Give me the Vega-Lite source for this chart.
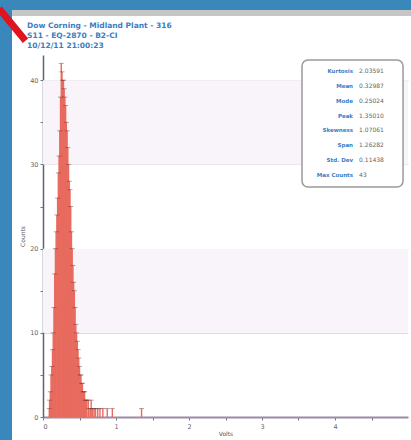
{
  "$schema": "https://vega.github.io/schema/vega-lite/v6.json",
  "width": 365,
  "height": 362,
  "autosize": {"type": "none"},
  "padding": {"left": 43, "top": 55, "right": 3, "bottom": 23},
  "background": "white",
  "config": {
    "view": {"stroke": null},
    "axis": {"labelFont": "DejaVu Sans", "titleFont": "DejaVu Sans", "labelColor": "#666", "titleColor": "#555", "labelFontSize": 6.5, "titleFontSize": 6, "titleFontWeight": "normal", "tickColor": "#777", "tickSize": 3}
  },
  "datasets": {
    "hist": [
      {"volts": 0.087, "count": 1}, {"volts": 0.09, "count": 2}, {"volts": 0.10, "count": 3}, {"volts": 0.11, "count": 5},
      {"volts": 0.12, "count": 6}, {"volts": 0.13, "count": 8}, {"volts": 0.14, "count": 10}, {"volts": 0.15, "count": 13},
      {"volts": 0.16, "count": 17}, {"volts": 0.17, "count": 20}, {"volts": 0.18, "count": 22}, {"volts": 0.19, "count": 24},
      {"volts": 0.20, "count": 26}, {"volts": 0.21, "count": 29}, {"volts": 0.22, "count": 31}, {"volts": 0.23, "count": 34},
      {"volts": 0.24, "count": 38}, {"volts": 0.25, "count": 42}, {"volts": 0.26, "count": 41}, {"volts": 0.27, "count": 40},
      {"volts": 0.28, "count": 40}, {"volts": 0.29, "count": 39}, {"volts": 0.30, "count": 38}, {"volts": 0.31, "count": 37},
      {"volts": 0.32, "count": 35}, {"volts": 0.33, "count": 34}, {"volts": 0.34, "count": 32}, {"volts": 0.35, "count": 30},
      {"volts": 0.36, "count": 28}, {"volts": 0.37, "count": 27}, {"volts": 0.38, "count": 25}, {"volts": 0.39, "count": 22},
      {"volts": 0.40, "count": 20}, {"volts": 0.41, "count": 18}, {"volts": 0.42, "count": 16}, {"volts": 0.43, "count": 15},
      {"volts": 0.44, "count": 13}, {"volts": 0.45, "count": 11}, {"volts": 0.46, "count": 10}, {"volts": 0.47, "count": 9},
      {"volts": 0.48, "count": 8}, {"volts": 0.49, "count": 7}, {"volts": 0.50, "count": 6}, {"volts": 0.51, "count": 5},
      {"volts": 0.52, "count": 5}, {"volts": 0.53, "count": 4}, {"volts": 0.54, "count": 4}, {"volts": 0.55, "count": 3},
      {"volts": 0.56, "count": 3}, {"volts": 0.57, "count": 3}, {"volts": 0.58, "count": 2}, {"volts": 0.59, "count": 2},
      {"volts": 0.60, "count": 2}, {"volts": 0.62, "count": 2}, {"volts": 0.63, "count": 1}, {"volts": 0.65, "count": 1},
      {"volts": 0.66, "count": 2}, {"volts": 0.68, "count": 1}, {"volts": 0.70, "count": 1}, {"volts": 0.72, "count": 1},
      {"volts": 0.75, "count": 1}, {"volts": 0.78, "count": 1}, {"volts": 0.82, "count": 1}, {"volts": 0.88, "count": 1},
      {"volts": 0.95, "count": 1}, {"volts": 1.35, "count": 1}
    ],
    "bands": [{"lo": 10, "hi": 20}, {"lo": 30, "hi": 40}],
    "stats": [
      {"stat": "Kurtosis", "value": "2.03591"},
      {"stat": "Mean", "value": "0.32987"},
      {"stat": "Mode", "value": "0.25024"},
      {"stat": "Peak", "value": "1.35010"},
      {"stat": "Skewness", "value": "1.07061"},
      {"stat": "Span", "value": "1.26282"},
      {"stat": "Std. Dev", "value": "0.11438"},
      {"stat": "Max Counts", "value": "43"}
    ],
    "header": [
      {"line": "Dow Corning - Midland Plant - 316"},
      {"line": "S11 - EQ-2870 - B2-CI"},
      {"line": "10/12/11 21:00:23"}
    ],
    "one": [{}]
  },
  "layer": [
    {
      "layer": [
        {
          "data": {"name": "bands"},
          "mark": {"type": "rect", "color": "#f8f4f9"},
          "encoding": {
            "x": {"datum": 0, "type": "quantitative", "scale": {"domain": [0, 5], "nice": false, "zero": false, "padding": 0},
              "axis": {"values": [0, 0.5, 1, 1.5, 2, 2.5, 3, 3.5, 4, 4.5], "labelExpr": "datum.value % 1 == 0 ? format(datum.value, 'd') : ''", "grid": false, "title": "Volts", "titlePadding": 1, "labelPadding": 3, "domainColor": "#9c8aa6", "domainWidth": 2}},
            "x2": {"datum": 5},
            "y": {"field": "lo", "type": "quantitative", "scale": {"domain": [0, 43], "nice": false, "zero": false, "padding": 0},
              "axis": {"values": [0, 5, 10, 15, 20, 25, 30, 35, 40], "labelExpr": "datum.value % 10 == 0 ? format(datum.value, 'd') : ''", "title": "Counts", "titlePadding": 4, "labelPadding": 2, "grid": true, "gridColor": "#dcdcdc", "gridOpacity": {"condition": {"test": "datum.value % 10 == 0 && datum.value > 0", "value": 1}, "value": 0}, "domainColor": "#5c6474", "domainWidth": 1.5}},
            "y2": {"field": "hi"}
          }
        },
        {
          "data": {"name": "hist"},
          "mark": {"type": "bar", "color": "#e86a5e", "size": 1.4},
          "encoding": {
            "x": {"field": "volts", "type": "quantitative"},
            "y": {"field": "count", "type": "quantitative"}
          }
        },
        {
          "data": {"name": "hist"},
          "mark": {"type": "point", "shape": "stroke", "size": 25, "strokeWidth": 0.8, "color": "#6b2b2b", "opacity": 0.55},
          "encoding": {
            "x": {"field": "volts", "type": "quantitative"},
            "y": {"field": "count", "type": "quantitative"}
          }
        },
        {
          "data": {"name": "one"},
          "mark": {"type": "rect", "fill": "white", "stroke": "#9a9a9a", "strokeWidth": 1.5, "cornerRadius": 6},
          "encoding": {
            "x": {"datum": 3.548, "type": "quantitative"},
            "x2": {"datum": 4.932},
            "y": {"datum": 42.41, "type": "quantitative"},
            "y2": {"datum": 27.32}
          }
        },
        {
          "data": {"name": "one"},
          "mark": {"type": "rect", "color": "#3a88bb"},
          "encoding": {
            "x": {"datum": -0.6, "type": "quantitative"},
            "x2": {"datum": -0.4247},
            "y": {"datum": -3, "type": "quantitative"},
            "y2": {"datum": 49.6}
          }
        },
        {
          "data": {"name": "one"},
          "mark": {"type": "rect", "color": "#3a88bb"},
          "encoding": {
            "x": {"datum": -0.6, "type": "quantitative"},
            "x2": {"datum": 5.05},
            "y": {"datum": 48.345, "type": "quantitative"},
            "y2": {"datum": 49.6}
          }
        },
        {
          "data": {"name": "one"},
          "mark": {"type": "rect", "color": "#c6c6c6"},
          "encoding": {
            "x": {"datum": -0.4247, "type": "quantitative"},
            "x2": {"datum": 5.05},
            "y": {"datum": 47.633, "type": "quantitative"},
            "y2": {"datum": 48.345}
          }
        },
        {
          "data": {"name": "one"},
          "mark": {"type": "rule", "color": "#e0141e", "strokeWidth": 7},
          "encoding": {
            "x": {"datum": -0.6, "type": "quantitative"},
            "x2": {"datum": -0.24},
            "y": {"datum": 48.5, "type": "quantitative"},
            "y2": {"datum": 44.7}
          }
        }
      ]
    },
    {
      "data": {"name": "header"},
      "mark": {"type": "text", "align": "left", "baseline": "middle", "font": "DejaVu Sans", "fontSize": 7.5, "fontWeight": "bold", "color": "#3a7dc2"},
      "encoding": {
        "x": {"datum": -0.219, "type": "quantitative"},
        "y": {"field": "line", "type": "ordinal", "sort": null, "scale": {"type": "point", "range": [-29, -9], "padding": 0}, "axis": null},
        "text": {"field": "line"}
      }
    },
    {
      "data": {"name": "stats"},
      "mark": {"type": "text", "align": "right", "baseline": "middle", "font": "DejaVu Sans", "fontSize": 5.5, "fontWeight": "bold", "color": "#3a7dc2"},
      "encoding": {
        "x": {"datum": 4.247, "type": "quantitative"},
        "y": {"field": "stat", "type": "ordinal", "sort": null, "scale": {"type": "point", "range": [16, 120], "padding": 0}, "axis": null},
        "text": {"field": "stat"}
      }
    },
    {
      "data": {"name": "stats"},
      "mark": {"type": "text", "align": "left", "baseline": "middle", "font": "DejaVu Sans", "fontSize": 6, "color": "#666"},
      "encoding": {
        "x": {"datum": 4.33, "type": "quantitative"},
        "y": {"field": "stat", "type": "ordinal", "sort": null, "scale": {"type": "point", "range": [16, 120], "padding": 0}, "axis": null},
        "text": {"field": "value"}
      }
    }
  ],
  "resolve": {"scale": {"y": "independent"}}
}
